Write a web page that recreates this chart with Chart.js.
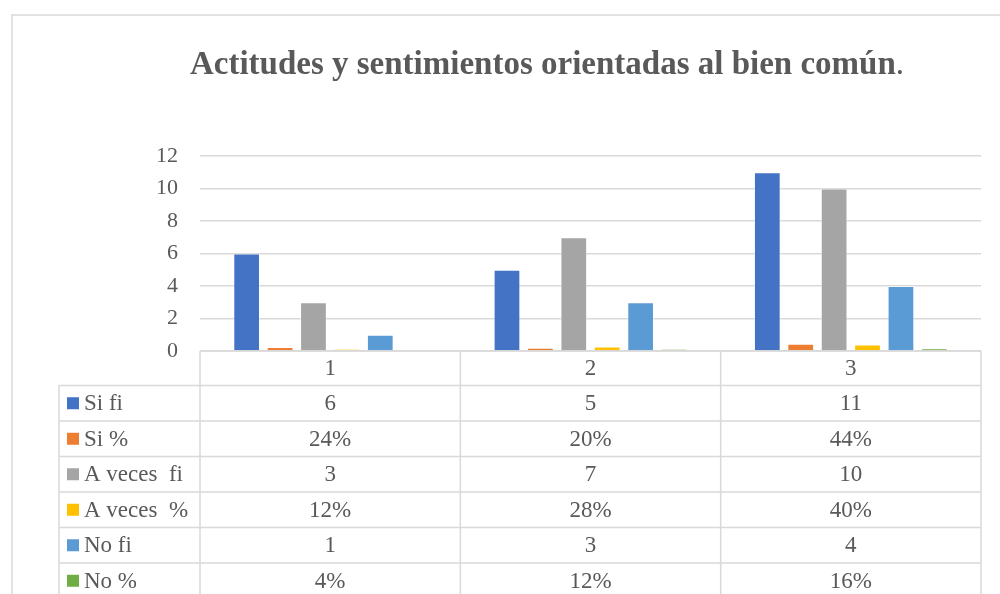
<!DOCTYPE html>
<html>
<head>
<meta charset="utf-8">
<script src="https://cdn.jsdelivr.net/npm/chart.js@4/dist/chart.umd.min.js"></script>
<style>
  html, body { margin: 0; padding: 0; background: #fff; }
  #wrap { width: 1000px; height: 594px; position: relative; }
</style>
</head>
<body>
<div id="wrap"><canvas id="chart"></canvas></div>
<script>
// data
var categories = ['1', '2', '3'];
var seriesNames = ['Si fi', 'Si %', 'A veces  fi', 'A veces  %', 'No fi', 'No %'];
var siFi = [6, 5, 11];
var siPct = [0.24, 0.20, 0.44];
var aVecesFi = [3, 7, 10];
var aVecesPct = [0.12, 0.28, 0.40];
var noFi = [1, 3, 4];
var noPct = [0.04, 0.12, 0.16];
var isPercent = [false, true, false, true, false, true];
var seriesColors = ['#4472C4', '#ED7D31', '#A5A5A5', '#FFC000', '#5B9BD5', '#70AD47'];
var yTicks = [0, 2, 4, 6, 8, 10, 12];

var allSeries = [siFi, siPct, aVecesFi, aVecesPct, noFi, noPct];
var textColor = '#595959';
var lineColor = '#d9d9d9';
var serif = '"Liberation Serif", "Times New Roman", serif';

// frame + title
var framePlugin = {
    id: 'frame',
    beforeDraw: function (chart) {
        var ctx = chart.ctx;
        ctx.save();
        ctx.strokeStyle = lineColor;
        ctx.lineWidth = 1.5;
        ctx.strokeRect(12, 15, 1100, 700);

        // title: bold text with a plain full stop
        var main = 'Actitudes y sentimientos orientadas al bien común';
        ctx.font = 'bold 33px ' + serif;
        var w1 = ctx.measureText(main).width;
        ctx.font = '33px ' + serif;
        var w2 = ctx.measureText('.').width;
        var x0 = 547 - (w1 + w2) / 2;
        ctx.fillStyle = textColor;
        ctx.textBaseline = 'alphabetic';
        ctx.textAlign = 'left';
        ctx.font = 'bold 33px ' + serif;
        ctx.fillText(main, x0, 74);
        ctx.font = '33px ' + serif;
        ctx.fillText('.', x0 + w1, 74);
        ctx.restore();
    }
};

// data table under the plot
var tablePlugin = {
    id: 'dataTable',
    afterDraw: function (chart) {
        var ctx = chart.ctx;
        var area = chart.chartArea;
        var xs = chart.scales.x;
        var top = area.bottom;
        var headH = 34.5;
        var rowH = 35.5;
        var labelLeft = 59;

        // column edges from the category scale
        var edges = [area.left];
        for (var i = 0; i < categories.length - 1; i++) {
            edges.push((xs.getPixelForValue(i) + xs.getPixelForValue(i + 1)) / 2);
        }
        edges.push(area.right);

        var bottom = top + headH + rowH * seriesNames.length;

        ctx.save();
        ctx.strokeStyle = lineColor;
        ctx.lineWidth = 1.5;
        ctx.beginPath();
        // horizontal lines
        ctx.moveTo(area.left, top); ctx.lineTo(area.right, top);
        for (var r = 0; r <= seriesNames.length; r++) {
            var y = top + headH + rowH * r;
            ctx.moveTo(labelLeft, y); ctx.lineTo(area.right, y);
        }
        // vertical lines
        edges.forEach(function (ex) {
            ctx.moveTo(ex, top); ctx.lineTo(ex, bottom);
        });
        ctx.moveTo(labelLeft, top + headH); ctx.lineTo(labelLeft, bottom);
        ctx.stroke();

        ctx.fillStyle = textColor;
        ctx.font = '23px ' + serif;
        ctx.textBaseline = 'middle';

        // header row
        ctx.textAlign = 'center';
        categories.forEach(function (c, i) {
            ctx.fillText(c, xs.getPixelForValue(i), top + headH / 2 + 1);
        });

        // series rows
        seriesNames.forEach(function (name, s) {
            var cy = top + headH + rowH * s + rowH / 2 + 1;
            ctx.fillStyle = seriesColors[s];
            ctx.fillRect(67, cy - 7, 12, 12);
            ctx.fillStyle = textColor;
            ctx.textAlign = 'left';
            ctx.fillText(name, 84, cy);
            ctx.textAlign = 'center';
            allSeries[s].forEach(function (v, i) {
                var txt = isPercent[s] ? Math.round(v * 100) + '%' : String(v);
                ctx.fillText(txt, xs.getPixelForValue(i), cy);
            });
        });
        ctx.restore();
    }
};

var datasets = seriesNames.map(function (name, s) {
    return {
        label: name,
        data: allSeries[s],
        backgroundColor: seriesColors[s],
        borderColor: 'rgba(255,255,255,0.45)',
        borderWidth: 1,
        categoryPercentage: 0.77,
        barPercentage: 0.8
    };
});

new Chart(document.getElementById('chart'), {
    type: 'bar',
    data: { labels: categories, datasets: datasets },
    options: {
        responsive: true,
        maintainAspectRatio: false,
        animation: false,
        layout: { padding: { top: 156, right: 19, bottom: 243, left: 0 } },
        plugins: {
            legend: { display: false },
            title: { display: false },
            tooltip: { enabled: false }
        },
        scales: {
            x: {
                display: false
            },
            y: {
                min: 0,
                max: 12,
                afterFit: function (scale) { scale.width = 200; },
                afterBuildTicks: function (scale) {
                    scale.ticks = yTicks.map(function (v) { return { value: v }; });
                },
                border: { display: false },
                grid: { color: lineColor, lineWidth: 1.5, drawTicks: false },
                ticks: {
                    color: textColor,
                    padding: 22,
                    font: { family: serif, size: 22 }
                }
            }
        }
    },
    plugins: [framePlugin, tablePlugin]
});
</script>
</body>
</html>
